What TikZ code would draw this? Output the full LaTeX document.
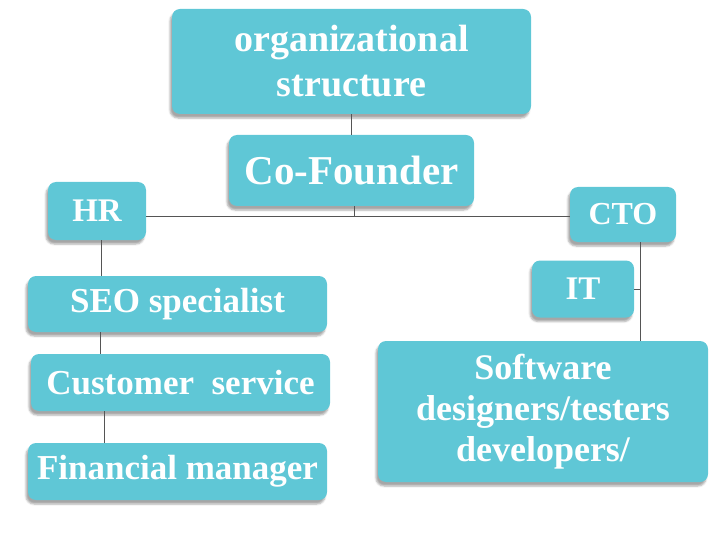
\documentclass[tikz,border=0pt]{standalone}
\usepackage{fontspec}
\setmainfont{Liberation Serif}
\usepackage{tikz}
\usetikzlibrary{shadows.blur, positioning}
\definecolor{boxteal}{RGB}{95,199,214}
\definecolor{linkgray}{RGB}{85,85,85}
\tikzset{
    orgbox/.style = {rectangle, rounded corners = 8pt, fill = boxteal, text = white,
        inner sep = 0pt, align = center, font = \bfseries\fontsize{35}{41}\selectfont,
        blur shadow = {shadow xshift = -2pt, shadow yshift = -4pt, shadow opacity = 35}},
    link/.style = {draw = linkgray, line width = 1pt}
}

\begin{document}
\begin{tikzpicture}[x = 1pt, y = -1pt]
    \useasboundingbox (0,0) rectangle (720,540);
    % Vertice
    \node[orgbox, minimum width = 359pt, minimum height = 105pt,
        font = \bfseries\fontsize{38}{45}\selectfont] (org) at (351.5,61.5) {organizational\\structure};
    \node[orgbox, minimum width = 245pt, minimum height = 71pt,
        font = \bfseries\fontsize{41}{45}\selectfont] (cofounder) at (351.5,170.5) {Co-Founder};
    % Ramo sinistro
    \node[orgbox, minimum width = 98pt, minimum height = 58pt,
        font = \bfseries\fontsize{33}{40}\selectfont] (hr) at (97,211) {HR};
    \node[orgbox, minimum width = 299pt, minimum height = 56pt] (seo) at (177.5,304) {SEO specialist};
    \node[orgbox, minimum width = 299pt, minimum height = 57pt] (cust) at (180.5,382.5) {Customer\ \ service};
    \node[orgbox, minimum width = 299pt, minimum height = 57pt] (fin) at (177.5,471.5) {Financial manager};
    % Ramo destro
    \node[orgbox, minimum width = 106pt, minimum height = 55pt,
        font = \bfseries\fontsize{32}{40}\selectfont] (cto) at (623,214.5) {CTO};
    \node[orgbox, minimum width = 102pt, minimum height = 57pt,
        font = \bfseries\fontsize{33}{40}\selectfont] (it) at (583,289) {IT};
    \node[orgbox, minimum width = 330pt, minimum height = 141pt,
        font = \bfseries\fontsize{36}{41}\selectfont] (soft) at (543,411.5) {Software\\designers/testers\\developers/};
    % Collegamenti
    \coordinate (bus) at (354,217);
    \coordinate (ctodrop) at ([xshift = 17pt]cto.south);
    \draw[link] (org.south) -- (cofounder.north);
    \draw[link] ([xshift = 2.5pt]cofounder.south) -- ([xshift = 2.5pt]cofounder.south |- bus);
    \draw[link] (hr.east |- bus) -- (cto.west |- bus);
    \draw[link] ([xshift = 4pt]hr.south) -- ([xshift = 4pt]hr.south |- seo.north);
    \draw[link] ([xshift = -77.5pt]seo.south) -- ([xshift = -77.5pt]seo.south |- cust.north);
    \draw[link] ([xshift = -76.5pt]cust.south) -- ([xshift = -76.5pt]cust.south |- fin.north);
    \draw[link] (ctodrop) -- (ctodrop |- soft.north);
    \draw[link] (it.east) -- (it.east -| ctodrop);
\end{tikzpicture}
\end{document}
